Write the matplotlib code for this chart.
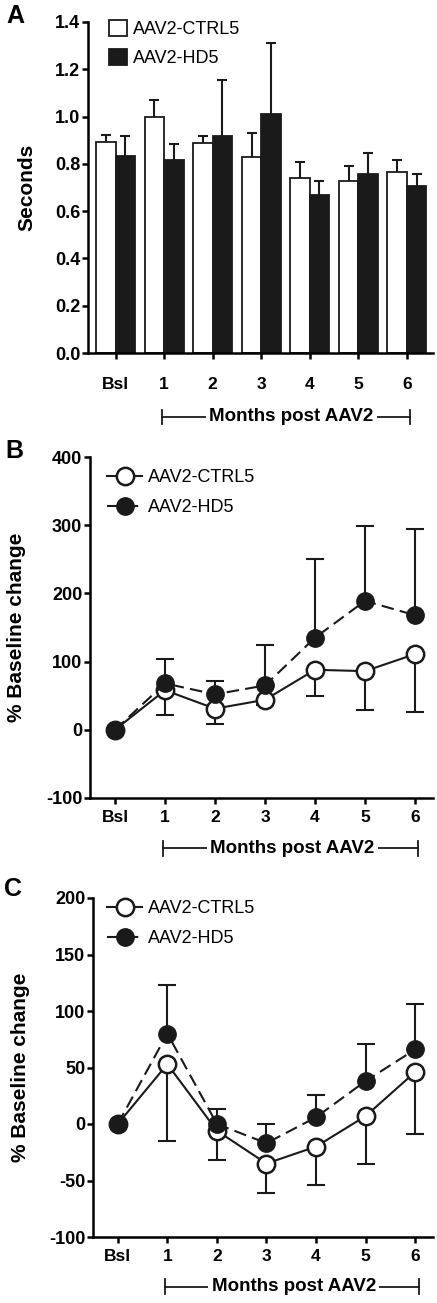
import matplotlib.pyplot as plt
import numpy as np
from matplotlib.transforms import blended_transform_factory

plt.rcParams['font.family'] = ['Liberation Sans', 'DejaVu Sans']
plt.rcParams['font.weight'] = 'bold'
plt.rcParams['axes.labelweight'] = 'bold'
plt.rcParams['axes.unicode_minus'] = False

# ---- data ----
time_labels = ['Bsl', '1', '2', '3', '4', '5', '6']
series_names = ['AAV2-CTRL5', 'AAV2-HD5']

# panel A: seconds (mean, upper SEM)
ctrl_a = [0.894, 1.000, 0.887, 0.831, 0.741, 0.727, 0.765]
ctrl_a_err = [0.030, 0.071, 0.030, 0.099, 0.065, 0.063, 0.052]
hd_a = [0.834, 0.817, 0.919, 1.011, 0.670, 0.759, 0.706]
hd_a_err = [0.083, 0.067, 0.236, 0.302, 0.059, 0.086, 0.053]
yticks_a = [0.0, 0.2, 0.4, 0.6, 0.8, 1.0, 1.2, 1.4]
ylabels_a = ['0.0', '0.2', '0.4', '0.6', '0.8', '1.0', '1.2', '1.4']

# panel B: % baseline change (ctrl lower err, hd upper err)
ctrl_b = [0, 58, 31, 44, 88, 86, 111]
ctrl_b_err = [0, 37, 23, 8, 39, 57, 85]
hd_b = [0, 68, 52, 65, 135, 189, 168]
hd_b_err = [0, 36, 19, 60, 115, 110, 127]
yticks_b = [-100, 0, 100, 200, 300, 400]

# panel C
ctrl_c = [0, 53, -6, -35, -20, 7, 46]
ctrl_c_err = [0, 68, 26, 26, 34, 42, 55]
hd_c = [0, 80, 0, -17, 6, 38, 66]
hd_c_err = [0, 43, 13, 17, 20, 33, 40]
yticks_c = [-100, -50, 0, 50, 100, 150, 200]

W, H = 437, 1303
fig = plt.figure(figsize=(W / 100, H / 100), dpi=100)


def px_axes(left, top, right, bottom):
    return fig.add_axes([left / W, 1 - bottom / H, (right - left) / W, (bottom - top) / H])


def style(ax, xpad):
    for s in ['top', 'right']:
        ax.spines[s].set_visible(False)
    for s in ['left', 'bottom']:
        ax.spines[s].set_linewidth(1.8)
    ax.tick_params(direction='out', length=4.5, width=1.8, labelsize=13, pad=1)
    ax.tick_params(axis='x', pad=xpad, labelsize=12.5)


def one_sided_err(ax, x, y, err, sign, cap, z):
    y = np.asarray(y, float)
    end = y + sign * np.asarray(err, float)
    keep = np.asarray(err) > 0
    ax.vlines(x[keep], y[keep], end[keep], colors='#1a1a1a', lw=1.5, zorder=z)
    ax.plot(x[keep], end[keep], ls='none', marker='_', ms=cap, mew=1.5, color='#1a1a1a', zorder=z)


def months_bracket(ax, yf, xtext):
    tr = blended_transform_factory(ax.transData, ax.transAxes)
    x0, x1 = 0.95, 6.07
    ax.plot([x0, x1], [yf, yf], color='#1a1a1a', lw=1.3, transform=tr, clip_on=False)
    for xx in (x0, x1):
        ax.plot([xx, xx], [yf - 0.022, yf + 0.022], color='#1a1a1a', lw=1.3, transform=tr, clip_on=False)
    ax.text(xtext, yf, 'Months post AAV2', transform=tr, ha='center', va='center', fontsize=13.5,
            bbox=dict(facecolor='white', edgecolor='none', pad=2.5))


x = np.arange(len(time_labels))

# ---------------- panel A ----------------
axA = px_axes(88, 22, 433, 353)
bw = 0.4
b1 = axA.bar(x - bw / 2, ctrl_a, bw, color='white', edgecolor='#1a1a1a', lw=1.3, zorder=2)
b2 = axA.bar(x + bw / 2, hd_a, bw, color='#1a1a1a', edgecolor='#1a1a1a', lw=1.3, zorder=2)
one_sided_err(axA, x - bw / 2, ctrl_a, ctrl_a_err, 1, 7.5, 1)
one_sided_err(axA, x + bw / 2, hd_a, hd_a_err, 1, 7.5, 1)
axA.set_xlim(-0.57, 6.54)
axA.set_ylim(0, 1.4)
axA.set_yticks(yticks_a, ylabels_a)
axA.set_xticks(x, time_labels)
style(axA, 13)
axA.set_ylabel('Seconds', fontsize=15, va='center')
axA.yaxis.set_label_coords(-0.177, 0.5)
axA.legend([b1, b2], series_names, loc='upper left', bbox_to_anchor=(109 / W, 1 - 20 / H),
           bbox_transform=fig.transFigure, frameon=False, borderpad=0, borderaxespad=0,
           handlelength=1.0, handleheight=1.0, handletextpad=0.35, labelspacing=0.6,
           prop={'weight': 'normal', 'size': 13})
months_bracket(axA, -0.193, 3.62)

# ---------------- panels B and C ----------------
def line_panel(ax, ctrl, ctrl_err, hd, hd_err, yticks, ylim, leg_top):
    one_sided_err(ax, x, ctrl, ctrl_err, -1, 13, 1)
    one_sided_err(ax, x, hd, hd_err, 1, 13, 1)
    l1, = ax.plot(x, ctrl, color='#1a1a1a', lw=1.5, marker='o', ms=12.5, mfc='white', mec='#1a1a1a',
                  mew=1.8, zorder=3)
    l2, = ax.plot(x, hd, color='#1a1a1a', lw=1.5, ls=(0, (6, 3)), marker='o', ms=12.5, mfc='#1a1a1a',
                  mec='#1a1a1a', zorder=4)
    ax.set_xlim(-0.5, 6.36)
    ax.set_ylim(*ylim)
    ax.set_yticks(yticks, [str(v) for v in yticks])
    ax.set_xticks(x, time_labels)
    style(ax, 4)
    ax.set_ylabel('% Baseline change', fontsize=15, va='center')
    ax.legend([l1, l2], series_names, loc='upper left', bbox_to_anchor=(107 / W, 1 - leg_top / H),
              bbox_transform=fig.transFigure, frameon=False, borderpad=0, borderaxespad=0,
              handlelength=1.95, handletextpad=0.3, labelspacing=0.72,
              prop={'weight': 'normal', 'size': 13})
    months_bracket(ax, -0.147, 3.55)


axB = px_axes(90, 457, 433, 798)
line_panel(axB, ctrl_b, ctrl_b_err, hd_b, hd_b_err, yticks_b, (-100, 400), 469)
axB.yaxis.set_label_coords(-0.213, 0.5)

axC = px_axes(93, 898, 433, 1237)
line_panel(axC, ctrl_c, ctrl_c_err, hd_c, hd_c_err, yticks_c, (-100, 200), 900)
axC.yaxis.set_label_coords(-0.212, 0.5)

# panel letters
for letter, px, py in [('A', 15, 16), ('B', 14, 451), ('C', 13, 889)]:
    fig.text(px / W, 1 - py / H, letter, fontsize=18, ha='center', va='center')

fig.savefig('out.png', dpi=100)
